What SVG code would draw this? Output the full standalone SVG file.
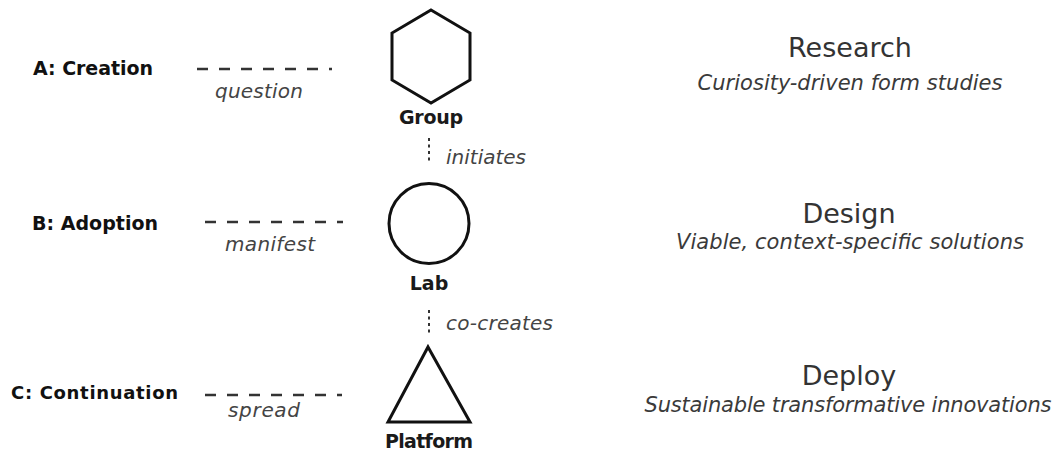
<svg xmlns="http://www.w3.org/2000/svg" width="1055" height="452" viewBox="0 0 1055 452">
  <style>
    .stage { font-family: "DejaVu Sans", "Liberation Sans", sans-serif; font-weight: bold; font-size: 19px; fill: #111; }
    .node-label { font-family: "DejaVu Sans", "Liberation Sans", sans-serif; font-weight: bold; font-size: 19px; fill: #1a1a1a; text-anchor: middle; }
    .rel { font-family: "DejaVu Sans", "Liberation Sans", sans-serif; font-style: italic; font-size: 20px; fill: #444; }
    .title { font-family: "DejaVu Sans", "Liberation Sans", sans-serif; font-size: 27px; fill: #333; text-anchor: middle; }
    .subtitle { font-family: "DejaVu Sans", "Liberation Sans", sans-serif; font-style: italic; font-size: 21px; fill: #3a3a3a; text-anchor: middle; }
    .shape { fill: none; stroke: #111; stroke-width: 3; stroke-linejoin: miter; }
    .dash { stroke: #333; stroke-width: 2.5; stroke-dasharray: 11 11; fill: none; }
    .dots { stroke: #333; stroke-width: 2; stroke-dasharray: 3 3.5; fill: none; }
  </style>
  <rect width="1055" height="452" fill="#ffffff"/>

  <!-- stage labels on the left -->
  <g id="stage-a"><text class="stage" x="33" y="75" textLength="120">A: Creation</text></g>
  <g id="stage-b"><text class="stage" x="32" y="230" textLength="126">B: Adoption</text></g>
  <g id="stage-c"><text class="stage" x="11" y="399" textLength="167" style="font-size:18px">C: Continuation</text></g>

  <!-- central nodes -->
  <g id="node-group">
    <polygon class="shape" points="431,10 470,33 470,80 431,103 392,80 392,33"/>
    <text class="node-label" x="431" y="124" textLength="64">Group</text>
  </g>
  <g id="node-lab">
    <circle class="shape" cx="429" cy="223.5" r="40"/>
    <text class="node-label" x="429" y="290">Lab</text>
  </g>
  <g id="node-platform">
    <polygon class="shape" points="428,347 470,422 388,422"/>
    <text class="node-label" x="429" y="448" textLength="88">Platform</text>
  </g>

  <!-- descriptions on the right -->
  <g id="phase-research">
    <text class="title" x="850" y="57">Research</text>
    <text class="subtitle" x="850" y="90" textLength="305">Curiosity-driven form studies</text>
  </g>
  <g id="phase-design">
    <text class="title" x="849" y="223">Design</text>
    <text class="subtitle" x="850" y="249" textLength="348">Viable, context-specific solutions</text>
  </g>
  <g id="phase-deploy">
    <text class="title" x="849" y="385">Deploy</text>
    <text class="subtitle" x="848" y="412" textLength="407">Sustainable transformative innovations</text>
  </g>

  <!-- connectors and their labels -->
  <g id="connectors">
    <line class="dash" x1="197" y1="69" x2="332" y2="69"/>
    <text class="rel" x="215" y="98" textLength="88">question</text>

    <line class="dash" x1="205" y1="222" x2="343" y2="222"/>
    <text class="rel" x="225" y="251" textLength="90">manifest</text>

    <line class="dash" x1="205" y1="395" x2="342" y2="395"/>
    <text class="rel" x="228" y="417" textLength="72">spread</text>

    <line class="dots" x1="429" y1="138" x2="429" y2="161"/>
    <text class="rel" x="446" y="164" textLength="80">initiates</text>

    <line class="dots" x1="429" y1="310" x2="429" y2="333"/>
    <text class="rel" x="446" y="330" textLength="107">co-creates</text>
  </g>
</svg>
